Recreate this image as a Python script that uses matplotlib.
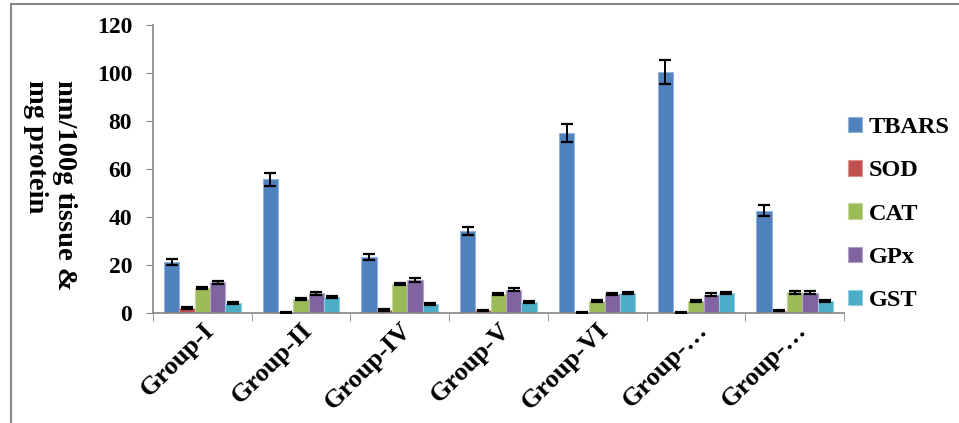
import numpy as np
import matplotlib.pyplot as plt
from matplotlib.patches import Rectangle

groups = ['Group-I', 'Group-II', 'Group-IV', 'Group-V', 'Group-VI', 'Group-…', 'Group-…']
series = ['TBARS', 'SOD', 'CAT', 'GPx', 'GST']

tbars = [21.1, 55.7, 23.2, 34.2, 74.9, 100.3, 42.6]
sod = [2.0, 0.3, 1.2, 1.1, 0.3, 0.3, 1.0]
cat = [10.4, 5.9, 12.1, 8.0, 5.1, 5.0, 8.7]
gpx = [12.8, 8.2, 13.6, 9.7, 7.9, 7.7, 8.5]
gst = [4.0, 6.6, 3.6, 4.4, 8.3, 8.4, 5.0]

tbars_err = [1.2, 2.8, 1.2, 1.8, 3.7, 5.1, 2.3]
sod_err = [0.3, 0.2, 0.3, 0.3, 0.2, 0.2, 0.3]
cat_err = [0.6, 0.5, 0.6, 0.5, 0.5, 0.6, 0.6]
gpx_err = [0.7, 0.5, 0.8, 0.6, 0.5, 0.5, 0.6]
gst_err = [0.4, 0.4, 0.4, 0.4, 0.4, 0.4, 0.4]

values = [tbars, sod, cat, gpx, gst]
errors = [tbars_err, sod_err, cat_err, gpx_err, gst_err]
colors = ['#4F81BD', '#C0504D', '#9BBB59', '#8064A2', '#4BACC6']
edges = ['#95B3D7', '#D99694', '#C3D69B', '#B3A2C7', '#93CDDD']

plt.rcParams['font.family'] = ['Liberation Serif', 'DejaVu Serif']
plt.rcParams['font.weight'] = 'bold'

fig = plt.figure(figsize=(9.59, 4.23), dpi=100)
ax = fig.add_axes([0.1595, 0.26, 0.7205, 0.681])

x = np.arange(len(groups))
w = 0.155
for i in range(len(series)):
    ax.bar(x + (i - 2) * w, values[i], w, color=colors[i], edgecolor=edges[i],
           linewidth=0.8, label=series[i], zorder=2)
    ax.errorbar(x + (i - 2) * w, values[i], yerr=errors[i], fmt='none',
                ecolor='black', elinewidth=1.4, capsize=4.5, capthick=1.6, zorder=3)

ax.set_xlim(-0.5, len(groups) - 0.5)
ax.set_ylim(0, 120)
ax.set_yticks(np.arange(0, 121, 20))
ax.tick_params(axis='y', labelsize=17, length=5, color='#868686', pad=10)

ax.set_xticks(x)
ax.set_xticklabels(groups, rotation=45, ha='right', rotation_mode='anchor', fontsize=19)
ax.tick_params(axis='x', length=0, pad=4)
ax.set_xticks(np.arange(-0.5, len(groups), 1), minor=True)
ax.tick_params(axis='x', which='minor', length=6, color='#868686')

for s in ['top', 'right']:
    ax.spines[s].set_visible(False)
for s in ['left', 'bottom']:
    ax.spines[s].set_color('#868686')
    ax.spines[s].set_linewidth(1.2)

fig.text(0.052, 0.811, 'nm/100g tissue &\nmg protein', rotation=270,
         ha='center', va='top', multialignment='left', fontsize=20.5,
         linespacing=1.2)

ax.legend(loc='center left', bbox_to_anchor=(843 / 959, 1 - 214 / 423),
          bbox_transform=fig.transFigure, frameon=False, borderaxespad=0,
          borderpad=0.2, fontsize=17.5, handlelength=0.6, handleheight=0.6,
          handletextpad=0.25, labelspacing=0.9)

# outer chart frame
fig.patches.append(Rectangle((11 / 959, -0.1), 1.2, 1.1 - 4 / 423, transform=fig.transFigure,
                             fill=False, edgecolor='#888888', linewidth=1.5))

fig.savefig('out.png', dpi=100)
